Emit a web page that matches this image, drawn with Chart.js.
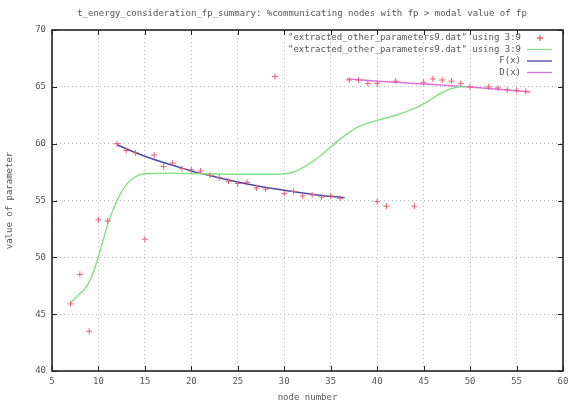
<!DOCTYPE html>
<html>
<head>
<meta charset="utf-8">
<script src="https://cdn.jsdelivr.net/npm/chart.js@4"></script>
<style>
  html, body { margin: 0; padding: 0; background: #fff; }
  #wrap { width: 568px; height: 409px; }
</style>
</head>
<body>
<div id="wrap"><canvas id="myChart" width="568" height="409"></canvas></div>
<script>
// red "+" points
const nodeX = [7,8,9,10,11,12,13,14,15,16,17,18,19,20,21,22,23,24,25,26,27,28,29,30,31,32,33,34,35,36,
	37,38,39,40,40,41,42,44,45,46,47,48,49,50,52,53,54,55,56];
const paramY = [45.9,48.5,43.5,53.3,53.2,60.0,59.4,59.2,51.6,59.0,58.0,58.3,57.8,57.7,57.6,57.2,57.0,56.7,56.5,56.6,56.1,56.0,65.9,55.6,55.8,55.4,55.5,55.3,55.4,55.2,
	65.6,65.6,65.3,65.3,54.9,54.5,65.5,54.5,65.4,65.7,65.6,65.5,65.3,65.0,65.0,64.9,64.75,64.7,64.6];

// green smoothed curve
const smoothX = [7,8,8.7,9.5,10,10.5,11,12,13,14,15,18,25,29,30,31,32,33,34,35,36,37,38,39,40,42,44,45,46,47,48,49,49.5];
const smoothY = [46.0,46.8,47.4,48.8,50.1,51.5,52.9,55.0,56.4,57.1,57.35,57.4,57.3,57.3,57.35,57.5,57.9,58.4,59.0,59.7,60.4,61.0,61.5,61.8,62.05,62.5,63.1,63.5,64.0,64.5,64.85,65.0,65.0];

// F(x)
const fX = [12,14,16,18,20,22,24,26,28,30,32,34,36.5];
const fY = [59.9,59.2,58.6,58.1,57.6,57.2,56.8,56.45,56.15,55.9,55.65,55.45,55.25];

// D(x)
const dX = [36.7,40,44,48,52,56.5];
const dY = [65.7,65.5,65.3,65.1,64.85,64.55];

const xTicks = [5,10,15,20,25,30,35,40,45,50,55,60];
const yTicks = [40,45,50,55,60,65,70];

const labels = ['"extracted_other_parameters9.dat" using 3:9', '"extracted_other_parameters9.dat" using 3:9', 'F(x)', 'D(x)'];
const titleText = 't_energy_consideration_fp_summary: %communicating nodes with fp > modal value of fp';

const FONT = '"DejaVu Sans Mono"';

function pts(xs, ys) { return xs.map((x, i) => ({x: x, y: ys[i]})); }

const frame = {
	id: 'frame',
	afterDraw(chart) {
		const c = chart.ctx, a = chart.chartArea;
		const xs = chart.scales.x, ys = chart.scales.y;
		c.save();
		c.strokeStyle = '#222';
		c.lineWidth = 1;
		xTicks.forEach(v => {
			const p = Math.round(xs.getPixelForValue(v)) + 0.5;
			c.beginPath();
			c.moveTo(p, a.bottom); c.lineTo(p, a.bottom - 5);
			c.moveTo(p, a.top); c.lineTo(p, a.top + 5);
			c.stroke();
		});
		yTicks.forEach(v => {
			const p = Math.round(ys.getPixelForValue(v)) + 0.5;
			c.beginPath();
			c.moveTo(a.left, p); c.lineTo(a.left + 5, p);
			c.moveTo(a.right, p); c.lineTo(a.right - 5, p);
			c.stroke();
		});
		c.lineWidth = 1.6;
		c.strokeRect(a.left, a.top, a.right - a.left, a.bottom - a.top);

		// title, centred over the plot like gnuplot does
		c.font = '9px ' + FONT;
		c.fillStyle = '#555';
		c.textAlign = 'center';
		c.textBaseline = 'middle';
		c.fillText(titleText, 302, 14);

		// key
		c.textAlign = 'right';
		chart.data.datasets.forEach((ds, i) => {
			const y = 38 + i * 11.5;
			c.fillStyle = '#555';
			c.fillText(ds.label, 521, y);
			c.strokeStyle = ds.borderColor;
			c.lineWidth = 1.3;
			c.beginPath();
			if (i === 0) {
				c.moveTo(537, y); c.lineTo(543, y);
				c.moveTo(540, y - 3); c.lineTo(540, y + 3);
			} else {
				c.moveTo(527, y); c.lineTo(552, y);
			}
			c.stroke();
		});
		c.restore();
	}
};

new Chart(document.getElementById('myChart'), {
	type: 'scatter',
	data: {
		datasets: [{
			label: labels[0],
			data: pts(nodeX, paramY),
			pointStyle: 'cross',
			pointRadius: 3,
			borderColor: '#e8606e',
			backgroundColor: '#e8606e',
			borderWidth: 1,
			showLine: false
		}, {
			label: labels[1],
			data: pts(smoothX, smoothY),
			showLine: true,
			cubicInterpolationMode: 'monotone',
			pointRadius: 0,
			borderColor: '#86e286',
			borderWidth: 1.5
		}, {
			label: labels[2],
			data: pts(fX, fY),
			showLine: true,
			tension: 0.4,
			pointRadius: 0,
			borderColor: '#4a4aa8',
			borderWidth: 1.5
		}, {
			label: labels[3],
			data: pts(dX, dY),
			showLine: true,
			tension: 0.4,
			pointRadius: 0,
			borderColor: '#e070e0',
			borderWidth: 1.5
		}]
	},
	options: {
		responsive: false,
		animation: false,
		layout: { padding: { top: 30, right: 0, left: 0, bottom: 0 } },
		plugins: {
			legend: { display: false },
			tooltip: { enabled: false },
			title: { display: false }
		},
		scales: {
			x: {
				type: 'linear', min: 5, max: 60,
				afterBuildTicks: s => { s.ticks = xTicks.map(v => ({value: v})); },
				afterFit: s => { s.height = 38; s.paddingRight = 5; },
				grid: { color: '#bbb', drawTicks: false },
				border: { display: false, dash: [1, 3] },
				ticks: { color: '#555', font: { size: 9, family: FONT }, padding: 5, maxRotation: 0 },
				title: { display: true, text: 'node number', color: '#555', font: { size: 9, family: FONT }, padding: { top: 2, bottom: 6 } }
			},
			y: {
				type: 'linear', min: 40, max: 70,
				afterBuildTicks: s => { s.ticks = yTicks.map(v => ({value: v})); },
				afterFit: s => { s.width = 52; },
				grid: { color: '#bbb', drawTicks: false },
				border: { display: false, dash: [1, 3] },
				ticks: { color: '#555', font: { size: 9, family: FONT }, padding: 6 },
				title: { display: true, text: 'value of parameter', color: '#555', font: { size: 9, family: FONT }, padding: { top: 4, bottom: 0 } }
			}
		}
	},
	plugins: [frame]
});
</script>
</body>
</html>
